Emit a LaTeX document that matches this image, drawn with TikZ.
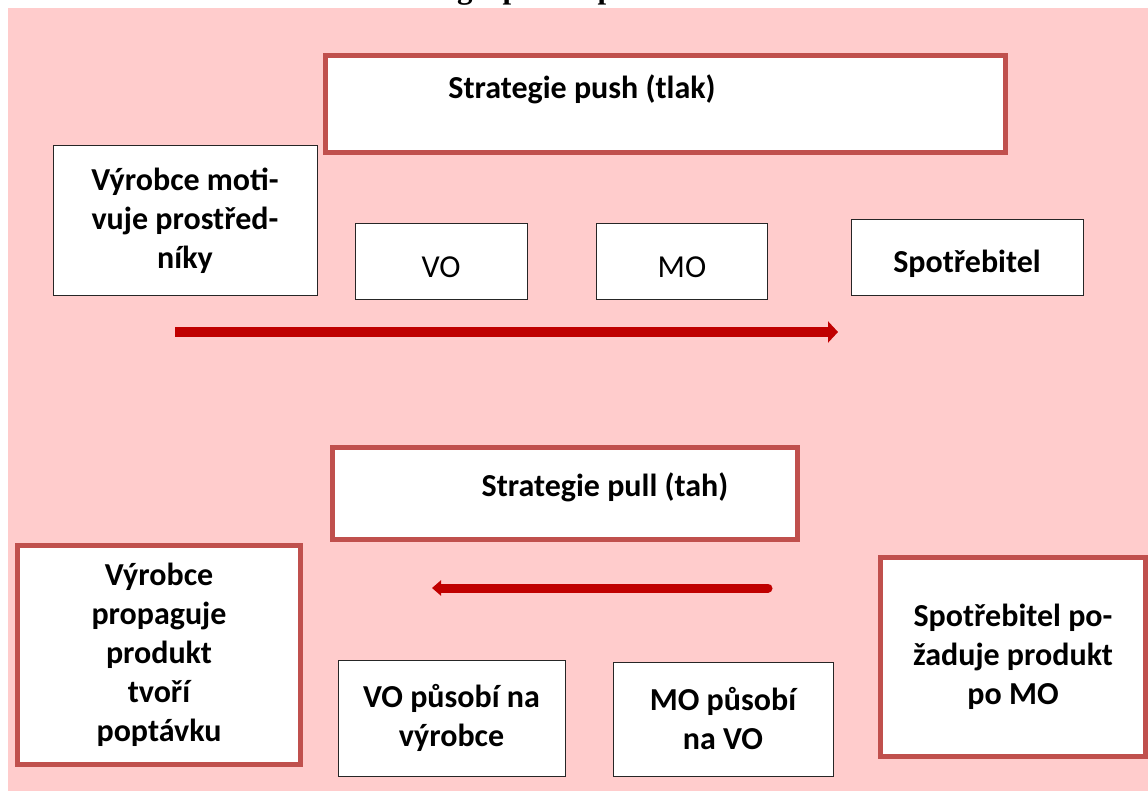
\documentclass[tikz,border=0pt]{standalone}
\usepackage{fontspec}
\setmainfont{Carlito}
\newfontfamily\capfont{Liberation Serif}
\usetikzlibrary{arrows.meta}

\definecolor{bgpink}{RGB}{255,204,204}
\definecolor{framered}{RGB}{192,80,77}
\definecolor{arrowred}{RGB}{192,0,0}

\begin{document}
\begin{tikzpicture}[x=1pt, y=-1pt,
    thinbox/.style={draw=black!85, line width=1pt, fill=white, align=center, inner sep=0pt},
    redbox/.style={draw=framered, line width=5pt, fill=white, align=center, inner sep=0pt},
    txt/.style={font=\fontsize{32}{39}\selectfont\bfseries, align=center},
    plain/.style={font=\fontsize{32}{39}\selectfont, align=center}]
    \useasboundingbox (0,0) rectangle (1148,791);
    \clip (0,0) rectangle (1148,791);
    \fill[bgpink] (8,8) rectangle (1148,791);

    % caption line, cut off at the top edge
    \node[anchor=base west, inner sep=0pt, font=\capfont\fontsize{31}{36}\selectfont\bfseries]
        (caption) at (376,-1) {Strategie push a pull};

    % push: manufacturer -> VO -> MO -> consumer
    \node[redbox, minimum width=680pt, minimum height=97pt] (push) at (665,104) {};
    \node[txt] (pushT) at (582,89) {Strategie push (tlak)};

    \node[thinbox, txt, minimum width=264pt, minimum height=150pt] (motiv) at (185,221)
        {Výrobce moti-\\vuje prostřed-\\níky};
    \node[thinbox, plain, minimum width=172pt, minimum height=76pt, text height=32pt, text depth=0pt]
        (vo) at (441,262) {VO};
    \node[thinbox, plain, minimum width=171pt, minimum height=76pt, text height=32pt, text depth=0pt]
        (mo) at (682,262) {MO};
    \node[thinbox, txt, minimum width=232pt, minimum height=76pt, text height=38pt, text depth=8pt]
        (spotr) at (967,258) {Spotřebitel};

    \coordinate (pushL) at (175,332);
    \coordinate (pushR) at (838,332);
    \draw[arrowred, line width=10pt, -{Triangle[length=10pt,width=21pt]}] (pushL) -- (pushR);

    % pull: consumer -> MO -> VO -> manufacturer
    \node[redbox, minimum width=465pt, minimum height=92pt] (pull) at (565,493) {};
    \node[txt] (pullT) at (605,487) {Strategie pull (tah)};

    \coordinate (pullR) at (768,588);
    \coordinate (pullL) at (432,588);
    \draw[arrowred, line width=9pt, line cap=round, -{Triangle[length=9pt,width=15pt]}] (pullR) -- (pullL);

    \node[redbox, txt, minimum width=283pt, minimum height=219pt] (propag) at (159,655)
        {Výrobce\\propaguje\\produkt\\tvoří\\poptávku};
    \node[thinbox, txt, minimum width=227pt, minimum height=116pt] (vopus) at (451.5,718)
        {VO působí na\\výrobce};
    \node[thinbox, txt, minimum width=220pt, minimum height=114pt] (mopus) at (723,719)
        {MO působí\\na VO};
    \node[redbox, txt, minimum width=265pt, minimum height=199pt] (pozad) at (1013,656.5)
        {Spotřebitel po-\\žaduje produkt\\po MO};
\end{tikzpicture}
\end{document}
